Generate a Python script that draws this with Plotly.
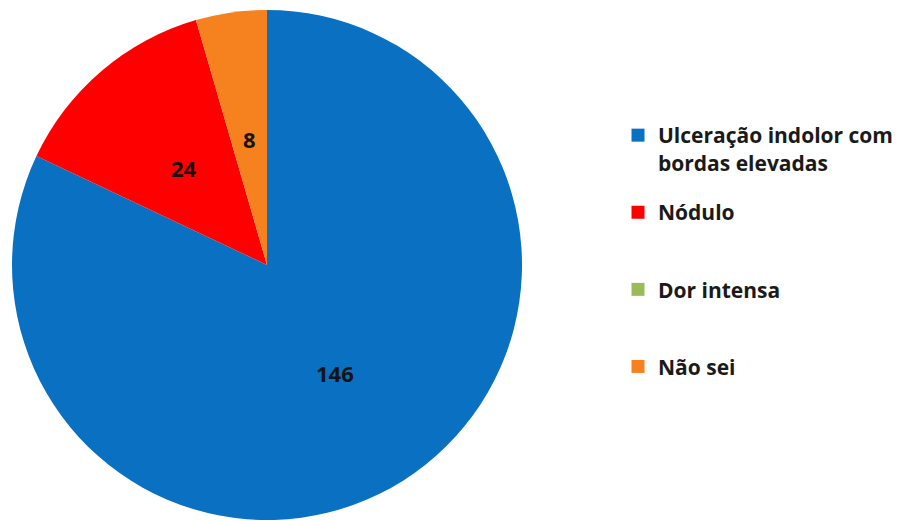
import math
import plotly.graph_objects as go

# Categories and counts
categories = ["Ulceração indolor com<br>bordas elevadas", "Nódulo", "Dor intensa", "Não sei"]
counts = [146, 24, 0, 8]
colors = ["#0A70C2", "#FF0000", "#9BBB59", "#F5821F"]

W, H = 904, 521
cx, cy, r = 267, 265, 255  # pie centre and radius in pixels

fig = go.Figure()

fig.add_trace(
    go.Pie(
        labels=[c.replace("<br>", " ") for c in categories],
        values=counts,
        marker=dict(colors=colors, line=dict(width=0)),
        sort=False,
        direction="clockwise",
        rotation=0,
        textinfo="none",
        hoverinfo="label+value+percent",
        showlegend=False,
        domain=dict(x=[(cx - r) / W, (cx + r) / W], y=[1 - (cy + r) / H, 1 - (cy - r) / H]),
    )
)

# Legend entries: one empty trace per category, each in its own group so the
# group gap spaces the entries evenly; single-line names get a blank second line.
for name, color in zip(categories, colors):
    label = name if "<br>" in name else name + "<br> "
    fig.add_trace(
        go.Scatter(
            x=[None],
            y=[None],
            mode="markers",
            name=label,
            legendgroup=name,
            marker=dict(symbol="square", size=13, color=color, line=dict(width=0)),
            hoverinfo="skip",
        )
    )

# Value labels at half radius on each slice's mid-angle (zero slices unlabeled)
total = sum(counts)
cum = 0
for v in counts:
    if v > 0:
        theta = 2 * math.pi * (cum + v / 2) / total
        px = cx + 0.5 * r * math.sin(theta)
        py = cy - 0.5 * r * math.cos(theta)
        fig.add_annotation(
            x=px / W,
            y=1 - py / H,
            xref="paper",
            yref="paper",
            xanchor="center",
            yanchor="middle",
            text=str(v),
            showarrow=False,
            font=dict(family="Open Sans", size=22, color="#141414", weight="bold"),
        )
    cum += v

fig.update_layout(
    width=W,
    height=H,
    margin=dict(l=0, r=0, t=0, b=0),
    paper_bgcolor="white",
    plot_bgcolor="white",
    xaxis=dict(visible=False),
    yaxis=dict(visible=False),
    showlegend=True,
    legend=dict(
        x=618 / W,
        y=1 - 115 / H,
        xanchor="left",
        yanchor="top",
        valign="top",
        traceorder="grouped",
        tracegroupgap=19.5,
        font=dict(family="Open Sans", size=21, color="#1a1a1a", weight="bold"),
        bgcolor="rgba(0,0,0,0)",
    ),
)

fig.write_html("out.html")
